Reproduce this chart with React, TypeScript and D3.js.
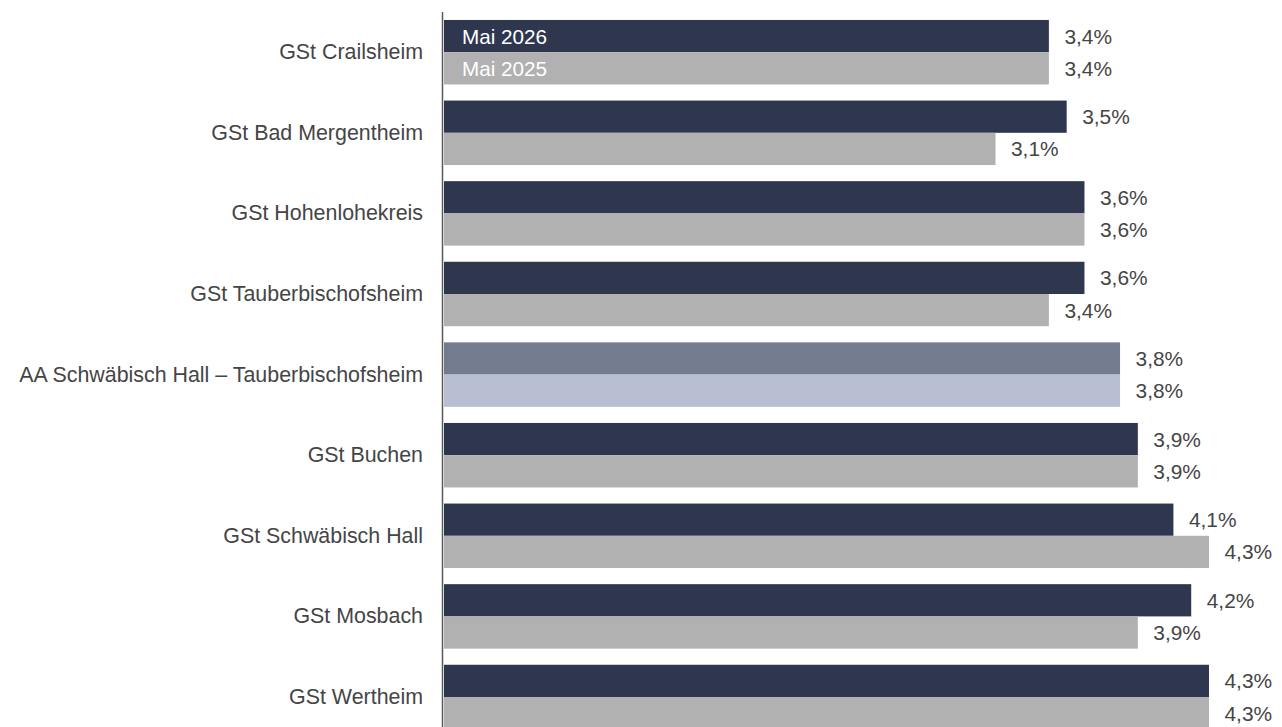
import React from "react";
import * as d3 from "d3";

const categories = [
  "GSt Crailsheim",
  "GSt Bad Mergentheim",
  "GSt Hohenlohekreis",
  "GSt Tauberbischofsheim",
  "AA Schwäbisch Hall – Tauberbischofsheim",
  "GSt Buchen",
  "GSt Schwäbisch Hall",
  "GSt Mosbach",
  "GSt Wertheim",
];
const seriesNames = ["Mai 2026", "Mai 2025"];
const may2026 = [3.4, 3.5, 3.6, 3.6, 3.8, 3.9, 4.1, 4.2, 4.3];
const may2025 = [3.4, 3.1, 3.6, 3.4, 3.8, 3.9, 4.3, 3.9, 4.3];
const highlight = "AA Schwäbisch Hall – Tauberbischofsheim";

const W = 1282;
const H = 727;
const FONT = "'Liberation Sans', Arial, sans-serif";

export default function App() {
  const x = d3.scaleLinear().domain([0, 4.3]).range([444, 1209]);
  const y = d3
    .scaleBand<string>()
    .domain(categories)
    .range([11.9, 737.3])
    .paddingInner(0.2)
    .paddingOuter(0.1);
  const inner = d3
    .scaleBand<string>()
    .domain(seriesNames)
    .range([0, y.bandwidth()]);
  const fmt = (v: number) => d3.format(".1f")(v).replace(".", ",") + "%";
  const series = [may2026, may2025];
  const colors = (cat: string, s: number) => {
    if (cat === highlight) return s === 0 ? "#737b8e" : "#b8bfd2";
    return s === 0 ? "#2f374f" : "#b1b1b1";
  };

  return (
    <svg
      width={W}
      height={H}
      style={{ position: "absolute", left: 0, top: 0, display: "block" }}
      fontFamily={FONT}
    >
      <rect width={W} height={H} fill="#fff" />
      {categories.map((cat, i) => {
        const gy = y(cat)!;
        return (
          <g key={cat}>
            <text
              x={423}
              y={gy + y.bandwidth() / 2}
              textAnchor="end"
              dominantBaseline="central"
              fontSize={21.4}
              fill="#454545"
            >
              {cat}
            </text>
            {series.map((vals, s) => {
              const by = gy + inner(seriesNames[s])!;
              const bh = inner.bandwidth();
              return (
                <g key={s}>
                  <rect
                    x={x(0)}
                    y={by}
                    width={x(vals[i]) - x(0)}
                    height={bh}
                    fill={colors(cat, s)}
                  />
                  <text
                    x={x(vals[i]) + 15.5}
                    y={by + bh / 2}
                    dominantBaseline="central"
                    fontSize={20.9}
                    fill="#454545"
                  >
                    {fmt(vals[i])}
                  </text>
                  {i === 0 && (
                    <text
                      x={x(0) + 18}
                      y={by + bh / 2}
                      dominantBaseline="central"
                      fontSize={20.7}
                      fill="#ffffff"
                    >
                      {seriesNames[s]}
                    </text>
                  )}
                </g>
              );
            })}
          </g>
        );
      })}
      <line
        x1={442.5}
        x2={442.5}
        y1={y.range()[0]}
        y2={H}
        stroke="#595959"
        strokeWidth={1.5}
      />
    </svg>
  );
}
